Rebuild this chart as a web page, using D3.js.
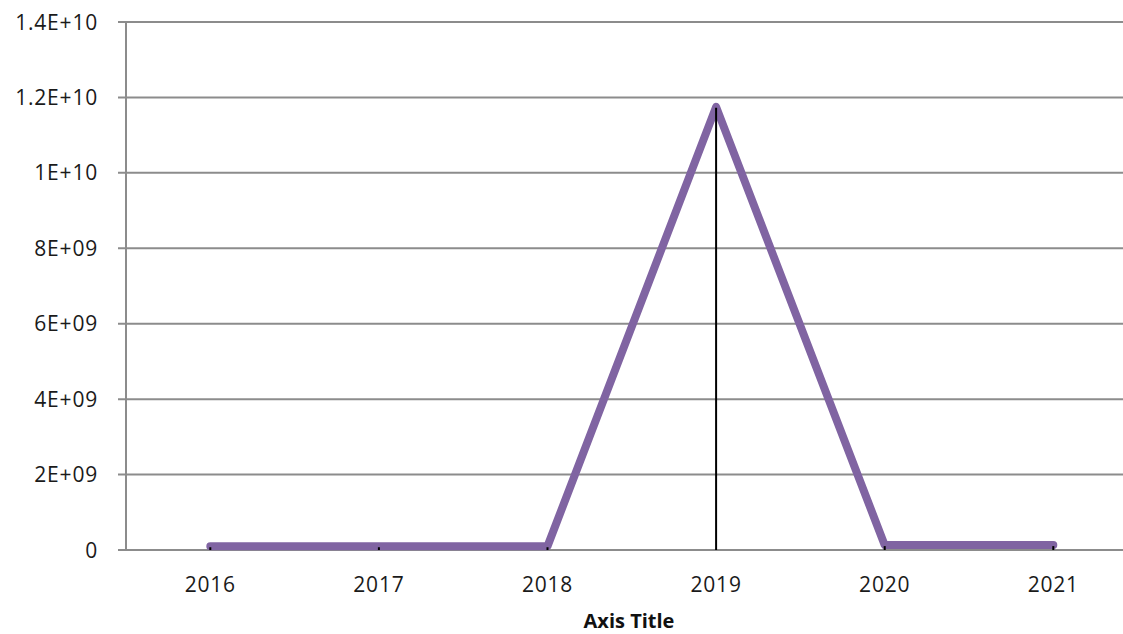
<!DOCTYPE html>
<html>
<head>
<meta charset="utf-8">
<script src="https://cdn.jsdelivr.net/npm/d3@7"></script>
<style>
  body { margin: 0; background: #fff; }
  svg { display: block; font-family: "Open Sans", "Noto Sans", sans-serif; }
</style>
</head>
<body>
<svg width="1123" height="634"></svg>
<script>
// data
const years = ["2016", "2017", "2018", "2019", "2020", "2021"];
const values = [1.0e8, 1.0e8, 1.0e8, 1.175e10, 1.3e8, 1.3e8];
const yTicks = [0, 2e9, 4e9, 6e9, 8e9, 1e10, 1.2e10, 1.4e10];
const yTickLabels = ["0", "2E+09", "4E+09", "6E+09", "8E+09", "1E+10", "1.2E+10", "1.4E+10"];

const svg = d3.select("svg");
const plotLeft = 126, plotRight = 1137.6, plotTop = 22, plotBottom = 550;

const x = d3.scaleBand().domain(years).range([plotLeft, plotRight]);
const y = d3.scaleLinear().domain([0, 1.4e10]).range([plotBottom, plotTop]);
const cx = d => x(d) + x.bandwidth() / 2;

// gridlines
svg.append("g")
  .selectAll("line")
  .data(yTicks)
  .enter()
  .append("line")
  .attr("x1", plotLeft - 8)
  .attr("x2", 1123)
  .attr("y1", d => y(d))
  .attr("y2", d => y(d))
  .attr("stroke", "#8c8c8c")
  .attr("stroke-width", 2);

// y axis line
svg.append("line")
  .attr("x1", plotLeft).attr("x2", plotLeft)
  .attr("y1", plotTop).attr("y2", plotBottom)
  .attr("stroke", "#8c8c8c")
  .attr("stroke-width", 2);

// y labels
svg.append("g")
  .selectAll("text")
  .data(yTicks)
  .enter()
  .append("text")
  .attr("x", 98)
  .attr("y", d => y(d))
  .attr("dy", "0.36em")
  .attr("text-anchor", "end")
  .attr("font-size", 21)
  .attr("letter-spacing", 0.8)
  .attr("fill", "#1a1a1a")
  .text((d, i) => yTickLabels[i]);

// x labels
svg.append("g")
  .selectAll("text")
  .data(years)
  .enter()
  .append("text")
  .attr("x", d => cx(d))
  .attr("y", 592)
  .attr("text-anchor", "middle")
  .attr("font-size", 21)
  .attr("letter-spacing", 0.8)
  .attr("fill", "#1a1a1a")
  .text(d => d);

// axis title
svg.append("text")
  .attr("x", 629)
  .attr("y", 628)
  .attr("text-anchor", "middle")
  .attr("font-size", 20)
  .attr("font-weight", "bold")
  .attr("fill", "#111")
  .text("Axis Title");

// the line
const line = d3.line()
  .x((d, i) => cx(years[i]))
  .y(d => y(d));

svg.append("path")
  .datum(values)
  .attr("d", line)
  .attr("fill", "none")
  .attr("stroke", "#8064a2")
  .attr("stroke-width", 8)
  .attr("stroke-linejoin", "round")
  .attr("stroke-linecap", "round");

// drop lines
svg.append("g")
  .selectAll("line")
  .data(values)
  .enter()
  .append("line")
  .attr("x1", (d, i) => cx(years[i]))
  .attr("x2", (d, i) => cx(years[i]))
  .attr("y1", d => y(d) + 1)
  .attr("y2", plotBottom)
  .attr("stroke", "#000")
  .attr("stroke-width", 2);
</script>
</body>
</html>
